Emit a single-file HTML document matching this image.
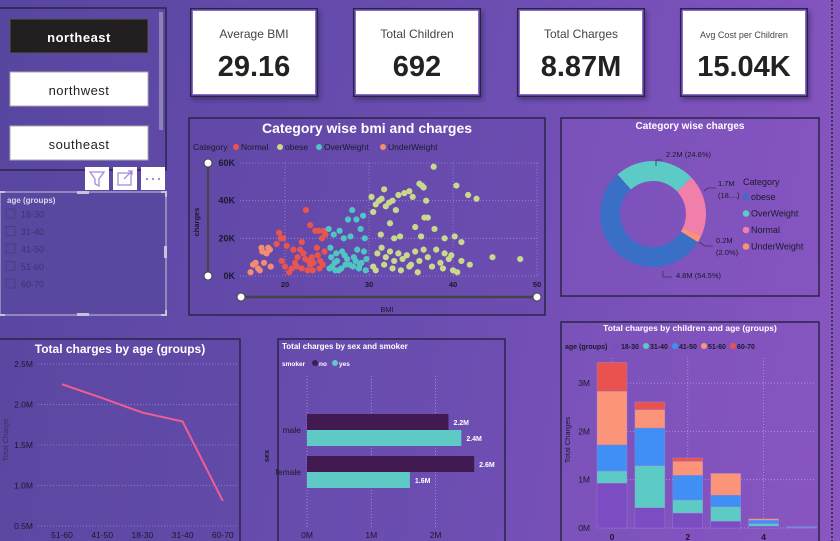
<!DOCTYPE html>
<html><head><meta charset="utf-8"><style>
html,body{margin:0;padding:0;}
body{width:840px;height:541px;overflow:hidden;background:linear-gradient(100deg,#5846a0 0%,#6a4db0 50%,#8a56c2 100%);font-family:"Liberation Sans",sans-serif;}
svg{position:absolute;left:0;top:0;}
</style></head><body>
<svg id="dash" width="840" height="541" viewBox="0 0 840 541">
<defs>
<filter id="sh" x="-10%" y="-10%" width="130%" height="140%"><feDropShadow dx="2" dy="3" stdDeviation="2" flood-color="#2a1e50" flood-opacity="0.5"/></filter>
</defs>
<line x1="832" y1="0" x2="832" y2="541" stroke="#3d3458" stroke-width="2" stroke-dasharray="2,2"/>

<g>
<rect x="-1" y="8" width="167" height="162" fill="none" stroke="#2b2448" stroke-width="1.5"/>
<rect x="159" y="12" width="4" height="118" fill="#8c82b8"/>
<g><rect x="10" y="19" width="138" height="34" fill="#231f20" stroke="#555" /><text x="79" y="42" text-anchor="middle" font-size="13" fill="#fff" font-weight="bold" letter-spacing="0.5">northeast</text></g>
<g><rect x="10" y="72" width="138" height="34" fill="#fff" stroke="#aaa"/><text x="79" y="95" text-anchor="middle" font-size="13" fill="#222" letter-spacing="0.5">northwest</text></g>
<g><rect x="10" y="126" width="138" height="34" fill="#fff" stroke="#aaa"/><text x="79" y="149" text-anchor="middle" font-size="13" fill="#222" letter-spacing="0.5">southeast</text></g>
</g>
<g><rect x="85" y="167" width="24" height="23" fill="#fff"/><path d="M90 172 L104 172 L99 179 L99 186 L95 184 L95 179 Z" fill="none" stroke="#a78bd8" stroke-width="1.3"/></g>
<g><rect x="113" y="167" width="24" height="23" fill="#fff"/><rect x="118" y="173" width="13" height="12" fill="none" stroke="#a78bd8" stroke-width="1.3"/><path d="M124 179 L132 171 M128 171 L132 171 L132 175" stroke="#a78bd8" stroke-width="1.3" fill="none"/></g>
<g><rect x="141" y="167" width="24" height="23" fill="#fff"/><circle cx="147" cy="179" r="1.2" fill="#a78bd8"/><circle cx="153" cy="179" r="1.2" fill="#a78bd8"/><circle cx="159" cy="179" r="1.2" fill="#a78bd8"/></g>

<g>
<rect x="0" y="192" width="166" height="123" fill="#5a47a0" stroke="#c8c4d8" stroke-width="1"/>
<path d="M0 192 h5 M161 192 h5 v5 M166 310 v5 h-5 M0 315 h5" stroke="#c8c4d8" stroke-width="2" fill="none"/>
<rect x="77" y="191" width="12" height="3" fill="#c8c4d8"/><rect x="77" y="313" width="12" height="3" fill="#c8c4d8"/><rect x="164" y="246" width="3" height="12" fill="#c8c4d8"/>
<text x="7" y="203" font-size="8" font-weight="bold" fill="#ddd8ee">age (groups)</text>
<g id="ageItems"></g>
</g>

<g id="kpis"></g>

<g>
<rect x="189" y="118" width="356" height="197" fill="#6549a8" fill-opacity="0.35" stroke="#2b2448" stroke-width="1.5"/>
<text x="367" y="133" text-anchor="middle" font-size="14" font-weight="bold" fill="#fff">Category wise bmi and charges</text>
<g id="scLegend" font-size="8.5" fill="#1a1a2a"></g>
<g id="scGrid"></g>
<g id="scDots"></g>
<line x1="208" y1="163" x2="208" y2="276" stroke="#444" stroke-width="2"/>
<circle cx="208" cy="163" r="4" fill="#fff" stroke="#444"/>
<circle cx="208" cy="276" r="4" fill="#fff" stroke="#444"/>
<line x1="241" y1="297" x2="537" y2="297" stroke="#444" stroke-width="2.5"/>
<circle cx="241" cy="297" r="4" fill="#fff" stroke="#444"/>
<circle cx="537" cy="297" r="4" fill="#fff" stroke="#444"/>
<text x="199" y="222" font-size="7.5" font-weight="bold" fill="#1a1a2a" text-anchor="middle" transform="rotate(-90 199 222)">charges</text>
<text x="387" y="312" font-size="7.5" fill="#1a1a2a" text-anchor="middle">BMI</text>
</g>

<g>
<rect x="561" y="118" width="258" height="178" fill="#8455c0" fill-opacity="0.45" stroke="#2b2448" stroke-width="1.5"/>
<text x="690" y="129" text-anchor="middle" font-size="10" font-weight="bold" fill="#fff">Category wise charges</text>
<g id="donut"></g>
<g id="donutLegend" font-size="9" fill="#1a1a2a"></g>
<g id="donutLabels" font-size="7.5" fill="#1a1a2a"></g>
</g>

<g>
<rect x="-1" y="339" width="241" height="205" fill="#5c48a3" fill-opacity="0.3" stroke="#2b2448" stroke-width="1.5"/>
<text x="120" y="353" text-anchor="middle" font-size="12" font-weight="bold" fill="#fff">Total charges by age (groups)</text>
<text x="8" y="440" font-size="7.5" fill="#3a3160" text-anchor="middle" transform="rotate(-90 8 440)">Total Charge</text>
<g id="lineChart"></g>
</g>

<g>
<rect x="278" y="339" width="227" height="205" fill="#6a4db0" fill-opacity="0.35" stroke="#2b2448" stroke-width="1.5"/>
<text x="282" y="349" font-size="8" font-weight="bold" fill="#fff">Total charges by sex and smoker</text>
<text x="269" y="456" font-size="7.5" font-weight="bold" fill="#1a1a2a" text-anchor="middle" transform="rotate(-90 269 456)">sex</text>
<g id="hbar"></g>
</g>

<g>
<rect x="561" y="322" width="258" height="222" fill="#8455c0" fill-opacity="0.4" stroke="#2b2448" stroke-width="1.5"/>
<text x="690" y="331" text-anchor="middle" font-size="8.5" font-weight="bold" fill="#fff">Total charges by children and age (groups)</text>
<text x="570" y="440" font-size="7.5" fill="#1a1a2a" text-anchor="middle" transform="rotate(-90 570 440)">Total Charges</text>
<g id="stack"></g>
</g>
</svg>
<script>
const NS="http://www.w3.org/2000/svg";
function mk(parent,tag,attrs,txt){const e=document.createElementNS(NS,tag);for(const k in attrs)e.setAttribute(k,attrs[k]);if(txt!==undefined)e.textContent=txt;parent.appendChild(e);return e;}

const ageGroups=["18-30","31-40","41-50","51-60","60-70"];
const ageG=document.getElementById("ageItems");
ageGroups.forEach((a,i)=>{const y=214+i*17.5;
 const g=mk(ageG,"g",{});
 
 
 mk(g,"rect",{x:6,y:y-5,width:9,height:9,fill:"none",stroke:"#4a3d80"});
 mk(g,"text",{x:21,y:y+3.5,"font-size":"9",fill:"#3c3270"},a);});

const kpiTitles=["Average BMI","Total Children","Total Charges","Avg Cost per Children"];
const kpiValues=["29.16","692","8.87M","15.04K"];
const kpiX=[190,353,517,680];
const kg=document.getElementById("kpis");
kpiTitles.forEach((t,i)=>{const x=kpiX[i];
 const g=mk(kg,"g",{filter:"url(#sh)"});
 
 
 mk(g,"rect",{x:x,y:8,width:128,height:89,fill:"#2b2448"});
 mk(g,"rect",{x:x+1.5,y:9.5,width:125,height:86,fill:"#8a6cd0"});
 mk(g,"rect",{x:x+3,y:11,width:122,height:83,fill:"#fff"});
 mk(g,"text",{x:x+64,y:38,"text-anchor":"middle","font-size":i==3?"9":"12",fill:"#444"},t);
 mk(g,"text",{x:x+64,y:76,"text-anchor":"middle","font-size":"29","font-weight":"bold",fill:"#222"},kpiValues[i]);});

const scCategories=["Normal","obese","OverWeight","UnderWeight"];
const scColors=["#e8554e","#c9d98c","#4ec6c4","#f58c72"];
const underBmi=[15.9,16.5,16.8,17.2,17.3,17.8,18,18.2,17.0,16.2,17.5,18.3];
const underCharge=[2,7,4,15,13,12,15,14,3,6,7,5];
const normalBmi=[19,19.3,19.5,19.8,20,20.2,19.6,20.5,21,21.4,21.5,21.8,22,22.2,22.5,22.7,23,23.2,23.4,23.6,23.8,24,24.2,24.4,24.6,24.8,22,22.8,23.3,24.1,21.2,23.9,24.5,20.8,22.4,23,24.7];
const normalCharge=[17,23,20,20,5,16,8,2,14,5,10,14,18,12,35,3,27,10,7,24,15,24,8,20,24,22,4,8,3,4,7,11,6,4,9,6,13];
const overBmi=[25.2,25.5,25.6,25.8,26,26.2,26.5,26.8,27,27.2,27.5,27.8,28,28.2,28.5,28.8,29,29.3,29.5,29.7,25.4,26.1,26.7,27.4,28.1,28.6,29.1,29.6,25.9,27.1,28.4,29.4,26.4,27.7,28.9,25.3];
const overCharge=[25,10,5,22,3,8,24,13,20,6,30,21,35,10,30,4,25,32,20,9,15,12,4,9,5,14,7,3,7,11,8,13,3,6,6,4];
const obeseBmi=[30.3,30.5,30.8,31.2,31.5,31.8,32,32.4,32.8,33.2,33.5,34.2,34.8,35.2,36,36.3,36.5,36.8,36.6,37.7,37.8,40.4,41.8,42.8,32.5,33,35.5,39,40.2,41,44.7,48,30.5,31,31.5,32,32.5,33,33.5,34,34.5,35,35.5,36,36.5,37,37.5,38,38.5,39,39.5,40,40.5,41,42,30.8,31.8,32.8,33.8,34.8,35.8,38.8,39.8,36.2,33.7,31.4,37];
const obeseCharge=[42,34,38,40,41,46,37,39,40,35,43,44,45,42,49,48,47,40,31,58,25,48,43,41,28,20,26,20,21,18,10,9,5,12,15,10,13,8,12,9,11,6,13,8,14,10,5,14,7,12,9,3,2,8,6,3,6,4,3,5,2,4,11,21,21,22,31];
const scXTicks=[20,30,40,50];
const scYTicks=[0,20,40,60];
const sx=b=>117+8.4*b, sy=c=>276-c*(113/60);
const sg=document.getElementById("scGrid");
scXTicks.forEach(t=>{ if(t<50) mk(sg,"line",{x1:sx(t),y1:163,x2:sx(t),y2:276,stroke:"#9a8cd0","stroke-dasharray":"1,2","stroke-width":"0.8"});
 const tx=mk(sg,"text",{x:sx(t),y:287,"text-anchor":"middle","font-size":"7.5","font-weight":"bold",fill:"#1a1a2a"},t);
 
 });
mk(sg,"line",{x1:sx(50),y1:163,x2:sx(50),y2:276,stroke:"#9a8cd0","stroke-dasharray":"1,2","stroke-width":"0.8"});
scYTicks.forEach(t=>{ mk(sg,"line",{x1:240,y1:sy(t),x2:538,y2:sy(t),stroke:"#9a8cd0","stroke-dasharray":"1,2","stroke-width":"0.8"});
 const tx=mk(sg,"text",{x:235,y:sy(t)+3,"text-anchor":"end","font-size":"9","font-weight":"bold",fill:"#1a1a2a"},t+"K");
 
 });
const sd=document.getElementById("scDots");
[[normalBmi,normalCharge,0],[underBmi,underCharge,3],[overBmi,overCharge,2],[obeseBmi,obeseCharge,1]].forEach(([bs,cs,ci])=>{
 bs.forEach((b,i)=>{const c=mk(sd,"circle",{cx:sx(b),cy:sy(cs[i]),r:3.1,fill:scColors[ci]});
 
 });});
const sl=document.getElementById("scLegend");
mk(sl,"text",{x:193,y:150},"Category");
let lx=233;
scCategories.forEach((c,i)=>{const g=mk(sl,"g",{});
 
 
 mk(g,"circle",{cx:lx+3,cy:147,r:3,fill:scColors[i]});
 mk(g,"text",{x:lx+8,y:150},c); lx+=8+c.length*5.0+6;});

const dnCategories=["obese","OverWeight","Normal","UnderWeight"];
const dnValues=[4.8,2.17,1.66,0.18];
const dnLabels=["4.8M (54.5%)","2.2M (24.6%)","1.7M (18....)","0.2M (2.0%)"];
const dnColors=["#3a6fc8","#5ccbc6","#f07fac","#fb9277"];
const dg=document.getElementById("donut");
const cx=653,cy=214,R=53,r=33;
const tot=dnValues.reduce((a,b)=>a+b,0);
let ang=122;
function pt(a,rad){const t=(a-90)*Math.PI/180;return [cx+rad*Math.cos(t),cy+rad*Math.sin(t)];}
dnValues.forEach((v,i)=>{const sw=v/tot*360;const a0=ang,a1=ang+sw;const lg=sw>180?1:0;
 const p0=pt(a0,R),p1=pt(a1,R),q1=pt(a1,r),q0=pt(a0,r);
 const p=mk(dg,"path",{d:`M${p0[0]},${p0[1]} A${R},${R} 0 ${lg} 1 ${p1[0]},${p1[1]} L${q1[0]},${q1[1]} A${r},${r} 0 ${lg} 0 ${q0[0]},${q0[1]} Z`,fill:dnColors[i]});
 
 
 ang=a1;});
const dl=document.getElementById("donutLegend");
mk(dl,"text",{x:743,y:185},"Category");
dnCategories.forEach((c,i)=>{const y=197+i*16.5;const g=mk(dl,"g",{});
 
 
 mk(g,"circle",{cx:746,cy:y,r:3.3,fill:dnColors[i]});
 mk(g,"text",{x:751,y:y+3.2},c);});
const dlab=document.getElementById("donutLabels");
const lbl=[[676,281,"M663 271 v6 h9"],[666,157,"M656 166 v-6 h6"],[718,186,"M704 191 l4 -3 h8"],[716,243,"M699 242 l6 4 h8"]];
lbl.forEach((l,i)=>{mk(dlab,"path",{d:l[2],stroke:"#3a2f60",fill:"none","stroke-width":"0.8"});});
mk(dlab,"text",{x:676,y:278},dnLabels[0]);
mk(dlab,"text",{x:666,y:157},dnLabels[1]);
mk(dlab,"text",{x:718,y:186},"1.7M");mk(dlab,"text",{x:718,y:198},"(18....)");
mk(dlab,"text",{x:716,y:243},"0.2M");mk(dlab,"text",{x:716,y:255},"(2.0%)");

const lnCategories=["51-60","41-50","18-30","31-40","60-70"];
const lnValues=[2.25,2.08,1.9,1.79,0.81];
const lnYTicks=[0.5,1.0,1.5,2.0,2.5];
const lxs=i=>62+i*40.2, lys=v=>526-(v-0.5)*81;
const lc=document.getElementById("lineChart");
lnYTicks.forEach(t=>{mk(lc,"line",{x1:38,y1:lys(t),x2:238,y2:lys(t),stroke:"#9a8cd0","stroke-dasharray":"1,2","stroke-width":"0.8"});
 const tx=mk(lc,"text",{x:33,y:lys(t)+3,"text-anchor":"end","font-size":"8.5",fill:"#1a1a2a"},t.toFixed(1)+"M");
 
 });
lnCategories.forEach((c,i)=>{const tx=mk(lc,"text",{x:lxs(i),y:538,"text-anchor":"middle","font-size":"8.5",fill:"#1a1a2a"},c);
 
 });
const ln=mk(lc,"polyline",{points:lnValues.map((v,i)=>lxs(i)+","+lys(v)).join(" "),fill:"none",stroke:"#ef5d93","stroke-width":"2"});



const hbCategories=["male","female"];
const hbNo=[2.2,2.6];
const hbYes=[2.4,1.6];
const hbXTicks=[0,1,2];
const hx=v=>307+v*64.3;
const hb=document.getElementById("hbar");
const hl=mk(hb,"g",{"font-size":"6.5","font-weight":"bold",fill:"#fff"});
mk(hl,"text",{x:282,y:366},"smoker");
mk(hl,"circle",{cx:315,cy:363,r:3,fill:"#421a52"});mk(hl,"text",{x:319,y:366},"no");
mk(hl,"circle",{cx:335,cy:363,r:3,fill:"#5ec9c5"});mk(hl,"text",{x:339,y:366},"yes");
hbXTicks.forEach(t=>{mk(hb,"line",{x1:hx(t),y1:376,x2:hx(t),y2:527,stroke:"#a898d8","stroke-dasharray":"1,2","stroke-width":"0.8"});
 const tx=mk(hb,"text",{x:hx(t),y:538,"text-anchor":"middle","font-size":"8.5",fill:"#1a1a2a"},t+"M");
 
 });
hbCategories.forEach((c,i)=>{const y0=414+i*42;
 mk(hb,"text",{x:301,y:y0+19,"text-anchor":"end","font-size":"8.5",fill:"#1a1a2a"},c);
 const b1=mk(hb,"rect",{x:hx(0),y:y0,width:hx(hbNo[i])-hx(0),height:16,fill:"#421a52"});
 
 
 const b2=mk(hb,"rect",{x:hx(0),y:y0+16,width:hx(hbYes[i])-hx(0),height:16,fill:"#5ec9c5"});
 
 
 mk(hb,"text",{x:hx(hbNo[i])+5,y:y0+11,"font-size":"7","font-weight":"bold",fill:"#fff"},hbNo[i]+"M");
 mk(hb,"text",{x:hx(hbYes[i])+5,y:y0+27,"font-size":"7","font-weight":"bold",fill:"#fff"},hbYes[i]+"M");});

const stChildren=[0,1,2,3,4,5];
const stGroups=["18-30","31-40","41-50","51-60","60-70"];
const st1830=[0.93,0.42,0.31,0.14,0.04,0.01];
const st3140=[0.25,0.87,0.27,0.30,0.05,0.0];
const st4150=[0.54,0.78,0.51,0.24,0.07,0.02];
const st5160=[1.11,0.38,0.29,0.45,0.03,0.0];
const st6070=[0.60,0.16,0.07,0.0,0.0,0.0];
const stYTicks=[0,1,2,3];
const stColors=["#7b4cc2","#5ccbc6","#3f8ff5","#fb9479","#e9534f"];
const stx=i=>597+i*37.9, sty=v=>528-v*48.3;
const sk=document.getElementById("stack");
stYTicks.forEach(t=>{mk(sk,"line",{x1:606,y1:sty(t),x2:816,y2:sty(t),stroke:"#b0a0e0","stroke-dasharray":"1,2","stroke-width":"0.8"});
 const tx=mk(sk,"text",{x:590,y:sty(t)+3,"text-anchor":"end","font-size":"8.5",fill:"#1a1a2a"},t+"M");
 
 });
[0,2,4].forEach(c=>{mk(sk,"line",{x1:stx(c)+15,y1:358,x2:stx(c)+15,y2:528,stroke:"#b0a0e0","stroke-dasharray":"1,2","stroke-width":"0.8"});});
stChildren.forEach((c,i)=>{ if(c%2==0){const tx=mk(sk,"text",{x:stx(i)+15,y:540,"text-anchor":"middle","font-size":"8.5","font-weight":"bold",fill:"#1a1a2a"},c);
 
 }});
const series=[st1830,st3140,st4150,st5160,st6070];
stChildren.forEach((c,i)=>{let base=0;
 series.forEach((s,k)=>{const v=s[i]; if(v<=0) return;
  const r=mk(sk,"rect",{x:stx(i),y:sty(base+v),width:30,height:sty(base)-sty(base+v),fill:stColors[k],stroke:"#a080d8","stroke-width":"0.4"});
  
  
  base+=v;});});
const sgl=mk(sk,"g",{"font-size":"7","font-weight":"bold",fill:"#1a1a2a"});
mk(sgl,"text",{x:565,y:349},"age (groups)");
let gx=617;
stGroups.forEach((g,k)=>{const e=mk(sgl,"g",{});
 
 
 mk(e,"circle",{cx:gx,cy:346,r:3,fill:stColors[k]});
 mk(e,"text",{x:gx+4,y:349},g); gx+=29;});
</script>
</body></html>
